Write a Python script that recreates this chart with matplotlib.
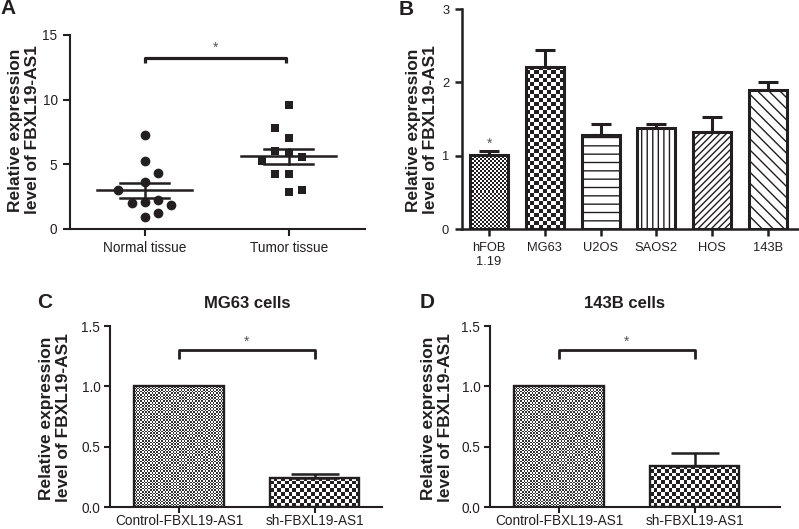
import numpy as np
import matplotlib
matplotlib.use("Agg")
import matplotlib.pyplot as plt
from matplotlib.colors import ListedColormap

plt.rcParams["font.family"] = ["Liberation Sans", "DejaVu Sans"]
plt.rcParams["hatch.linewidth"] = 1.0

INK = "#231f20"
W, H = 799, 529

# ---- panel A: dot plot ----
groups_a = ["Normal tissue", "Tumor tissue"]
normal_vals = [7.27, 5.26, 4.30, 3.63, 3.02, 1.99, 2.11, 2.24, 1.86, 0.95, 1.26]
normal_cols = [0, 0, 1, 0, -2, -1, 0, 1, 2, 0, 1]
tumor_vals = [9.59, 7.79, 7.01, 6.00, 5.87, 5.60, 5.22, 4.23, 4.23, 2.84, 3.02]
tumor_cols = [0, -1, 0, -1, 0, 1, -2, -1, 0, 0, 1]
means_a = [2.98, 5.61]
sems_a = [0.58, 0.58]

# ---- panel B: cell lines ----
cells_b = ["hFOB\n1.19", "MG63", "U2OS", "SAOS2", "HOS", "143B"]
vals_b = [1.01, 2.21, 1.285, 1.375, 1.32, 1.90]
errs_b = [0.05, 0.23, 0.155, 0.055, 0.205, 0.11]

# ---- panels C / D: knockdown ----
groups_cd = ["Control-FBXL19-AS1", "sh-FBXL19-AS1"]
vals_c = [1.0, 0.245]
errs_c = [0.0, 0.03]
vals_d = [1.0, 0.34]
errs_d = [0.0, 0.11]


def px_axes(fig, left, top, right, bottom):
    return fig.add_axes([left / W, 1 - bottom / H, (right - left) / W, (bottom - top) / H])


def style_axes(ax, lw, size, length=4, pad=3):
    for s in ["top", "right"]:
        ax.spines[s].set_visible(False)
    for s in ["left", "bottom"]:
        ax.spines[s].set_linewidth(lw)
        ax.spines[s].set_color(INK)
    ax.tick_params(direction="out", length=length, width=lw, color=INK,
                   labelsize=size, labelcolor=INK, pad=pad)


def checker_fill(ax, bar, cell_px, dark=INK):
    # paint a checkerboard inside the bar, clipped to its outline
    bb = bar.get_window_extent()
    nx = max(1, int(round(bb.width / cell_px)))
    ny = max(1, int(round(bb.height / cell_px)))
    grid = np.indices((ny, nx)).sum(axis=0) % 2
    x0, y0 = bar.get_x(), bar.get_y()
    im = ax.imshow(grid, cmap=ListedColormap(["white", dark]),
                   extent=(x0, x0 + bar.get_width(), y0, y0 + bar.get_height()),
                   interpolation="nearest", aspect="auto", zorder=0.5)
    im.set_clip_path(bar)


def bracket(ax, x0, x1, y, drop, lw, star_y, fs):
    ax.plot([x0, x0, x1, x1], [y - drop, y, y, y - drop], color=INK, lw=lw,
            solid_capstyle="butt", clip_on=False)
    ax.text((x0 + x1) / 2, star_y, "*", ha="center", va="center",
            fontsize=fs, color="#555555")


fig = plt.figure(figsize=(W / 100, H / 100), dpi=100)

# ================= A =================
ax = px_axes(fig, 70, 35, 365, 229)
ax.set_xlim(-0.52, 1.53)
ax.set_ylim(0, 15)
style_axes(ax, 1.5, 9.8, length=5, pad=4)
step = 13.3 / 144
for i, (vals, cols, mk) in enumerate([(normal_vals, normal_cols, "o"),
                                      (tumor_vals, tumor_cols, "s")]):
    xs = [i + c * step for c in cols]
    ax.plot(xs, vals, mk, color=INK, markersize=7 if mk == "o" else 6.3,
            markeredgewidth=0, zorder=2)
    m, e = means_a[i], sems_a[i]
    ax.plot([i - 0.33, i + 0.33], [m, m], color=INK, lw=1.8, zorder=3)
    ax.plot([i - 0.17, i + 0.17], [m + e, m + e], color=INK, lw=1.8, zorder=3)
    ax.plot([i - 0.17, i + 0.17], [m - e, m - e], color=INK, lw=1.8, zorder=3)
    ax.plot([i, i], [m - e, m + e], color=INK, lw=1.8, zorder=3)
ax.set_xticks([0, 1])
ax.set_xticklabels(groups_a)
ax.set_yticks([0, 5, 10, 15])
bracket(ax, 0, 0.98, 13.25, 0.45, 2.3, 14.0, 10)

# ================= B =================
ax = px_axes(fig, 461.7, 9, 798, 229.3)
xb = np.arange(len(cells_b))
ax.set_xlim(-0.49, 5.54)
ax.set_ylim(0, 3)
style_axes(ax, 1.8, 9.3, length=5, pad=4)
hatches = [None, None, "--", "|||", "/////", "\\\\\\"]
bars = ax.bar(xb, vals_b, width=0.68, facecolor="none", edgecolor=INK,
              linewidth=2.2, zorder=2)
for b, h in zip(bars, hatches):
    if h:
        b.set_hatch(h)
        b.set_facecolor("white")
checker_fill(ax, bars[0], 2)
checker_fill(ax, bars[1], 4)
ax.errorbar(xb, vals_b, yerr=[np.zeros(len(vals_b)), errs_b], fmt="none",
            ecolor=INK, elinewidth=2.2, capsize=7, capthick=2.2, zorder=1)
ax.set_xticks(xb)
ax.set_xticklabels(cells_b)
ax.set_yticks([0, 1, 2, 3])
ax.text(0, 1.17, "*", ha="center", va="center", fontsize=10, color="#555555")

# ================= C / D =================
for (left, right, vals, errs, title, tx, letter, lx, ylx) in [
        (110, 381.7, vals_c, errs_c, "MG63 cells", 247, "C", 37, 55),
        (490, 780, vals_d, errs_d, "143B cells", 625, "D", 420, 437)]:
    ax = px_axes(fig, left, 326, right, 507.3)
    xs = np.arange(2)
    ax.set_xlim(-0.51, (right - left - 69) / 135.5)
    ax.set_ylim(0, 1.5)
    style_axes(ax, 1.5, 9.8, length=4, pad=0.5)
    ax.tick_params(axis="y", pad=3)
    bars = ax.bar(xs, vals, width=0.66, facecolor="none", edgecolor=INK,
                  linewidth=1.7, zorder=2)
    checker_fill(ax, bars[0], 1.6, dark="#333333")
    checker_fill(ax, bars[1], 3.7)
    ax.errorbar(xs[1:], vals[1:], yerr=[[0], errs[1:]], fmt="none", ecolor=INK,
                elinewidth=1.8, capsize=17, capthick=1.8, zorder=1)
    ax.set_xticks(xs)
    ax.set_xticklabels(groups_cd)
    ax.set_yticks([0, 0.5, 1.0, 1.5])
    ax.set_yticklabels(["0.0", "0.5", "1.0", "1.5"])
    bracket(ax, 0, 1, 1.30, 0.07, 2.0, 1.37, 10)
    fig.text(tx / W, 1 - 303 / H, title, ha="center", va="center",
             fontsize=12, fontweight="bold", color=INK)
    fig.text(lx / W, 1 - 303 / H, letter, ha="left", va="center",
             fontsize=15, fontweight="bold", color=INK)
    fig.text(ylx / W, 1 - 418 / H, "Relative expression\nlevel of FBXL19-AS1",
             rotation=90, ha="center", va="center", fontsize=12.5,
             fontweight="bold", color=INK, linespacing=1.15)

# y labels and letters for top row
for lx in [24, 422]:
    fig.text(lx / W, 1 - 130 / H, "Relative expression\nlevel of FBXL19-AS1",
             rotation=90, ha="center", va="center", fontsize=12.5,
             fontweight="bold", color=INK, linespacing=1.15)
fig.text(0, 1 - 9 / H, "A", ha="left", va="center", fontsize=15,
         fontweight="bold", color=INK)
fig.text(399 / W, 1 - 9.5 / H, "B", ha="left", va="center", fontsize=15,
         fontweight="bold", color=INK)

fig.savefig("out.png", dpi=100)
